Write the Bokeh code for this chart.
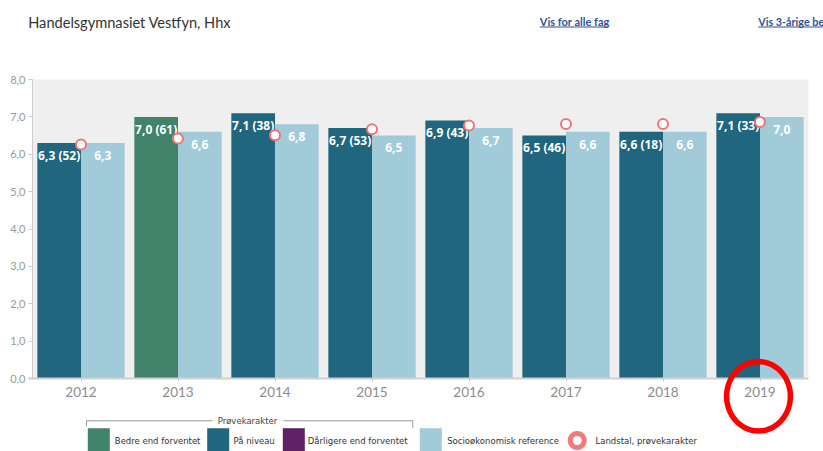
import numpy as np
from bokeh.plotting import figure
from bokeh.models import (ColumnDataSource, Range1d, FixedTicker, LinearAxis,
                          Label, BoxAnnotation, PolyAnnotation, Arrow)
from bokeh.transform import dodge
from bokeh.core.properties import value
from bokeh.embed import file_html
from bokeh.resources import INLINE

# ---------------- data ----------------
years = ["2012", "2013", "2014", "2015", "2016", "2017", "2018", "2019"]
school_grade = [6.3, 7.0, 7.1, 6.7, 6.9, 6.5, 6.6, 7.1]
students = [52, 61, 38, 53, 43, 46, 18, 33]
status = ["På niveau", "Bedre end forventet", "På niveau", "På niveau",
          "På niveau", "På niveau", "På niveau", "På niveau"]
reference = [6.3, 6.6, 6.8, 6.5, 6.7, 6.6, 6.6, 7.0]
national = [6.26, 6.42, 6.51, 6.67, 6.77, 6.81, 6.81, 6.86]
y_ticks = [0, 1, 2, 3, 4, 5, 6, 7, 8]
y_tick_labels = ["0,0", "1,0", "2,0", "3,0", "4,0", "5,0", "6,0", "7,0", "8,0"]
legend_labels = ["Bedre end forventet", "På niveau", "Dårligere end forventet",
                 "Socioøkonomisk reference", "Landstal, prøvekarakter"]
legend_group_title = "Prøvekarakter"
title_text = "Handelsgymnasiet Vestfyn, Hhx"
link_texts = ["Vis for alle fag", "Vis 3-årige be"]

# ---------------- style ----------------
C_GREEN = "#40826a"
C_TEAL = "#1f667e"
C_PURPLE = "#5f2163"
C_LIGHT = "#a1cbd8"
C_NAT = "#f07575"
C_BG = "#efefef"
status_color = {"Bedre end forventet": C_GREEN, "På niveau": C_TEAL,
                "Dårligere end forventet": C_PURPLE}

def fmt(v):
    return f"{v:.1f}".replace(".", ",")

x_pos = list(range(len(years)))          # category slots
LABEL_DROP = 0.33                         # label centre below bar top (data units)

src = ColumnDataSource(dict(
    x=x_pos,
    school=school_grade,
    ref=reference,
    nat=national,
    color=[status_color[s] for s in status],
    school_label=[f"{fmt(v)} ({n})" for v, n in zip(school_grade, students)],
    ref_label=[fmt(v) for v in reference],
    school_label_y=[v - LABEL_DROP for v in school_grade],
    ref_label_y=[v - LABEL_DROP for v in reference],
))

# ---------------- canvas geometry (page pixels) ----------------
W, H = 823, 451
FL, FR, FT, FB = 32, 808, 79, 378          # plotting area edges
n = len(years)
PXU = (FR - FL) / n                        # px per category slot
PYU = (FB - FT) / 8.0                      # px per grade unit

def dx(px):
    return (px - FL) / PXU - 0.5

def dy(py):
    return (FB - py) / PYU

p = figure(x_range=Range1d(dx(0), dx(W)), y_range=Range1d(dy(H), dy(0)),
           width=W, height=H, output_backend="svg", toolbar_location=None,
           x_axis_location=None, y_axis_location=None,
           min_border_left=0, min_border_right=0, min_border_top=0,
           min_border_bottom=0)
p.title.visible = False
p.background_fill_color = "white"
p.border_fill_color = "white"
p.outline_line_color = None
p.grid.visible = False

# grey plotting area
p.add_layout(BoxAnnotation(left=-0.5, right=n - 0.5, bottom=0, top=8,
                           fill_color=C_BG, fill_alpha=1, line_color=None,
                           level="underlay"))

BW = 0.45
p.vbar(x=dodge("x", -BW / 2), top="school", width=BW,
       fill_color="color", line_color=None, source=src)
p.vbar(x=dodge("x", BW / 2), top="ref", width=BW,
       fill_color=C_LIGHT, line_color=None, source=src)

p.text(x=dodge("x", -BW / 2), y="school_label_y",
       text="school_label", text_align="center", text_baseline="middle",
       text_color="white", text_font=value("Open Sans"),
       text_font_style="bold", text_font_size="12px", source=src)
p.text(x=dodge("x", BW / 2), y="ref_label_y",
       text="ref_label", text_align="center", text_baseline="middle",
       text_color="white", text_font=value("Open Sans"),
       text_font_style="bold", text_font_size="12px", source=src)

p.scatter(x="x", y="nat", size=10, marker="circle", fill_color="white",
          line_color=C_NAT, line_width=2, source=src)

# axes (fixed inside the canvas)
yaxis = LinearAxis(fixed_location=-0.5, bounds=(0, 8),
                   ticker=FixedTicker(ticks=y_ticks),
                   major_label_overrides={t: l for t, l in zip(y_ticks, y_tick_labels)})
yaxis.axis_line_color = "#cccccc"
yaxis.major_tick_line_color = "#cccccc"
yaxis.major_tick_out = 4
yaxis.major_tick_in = 0
yaxis.minor_tick_line_color = None
yaxis.major_label_standoff = 3
yaxis.major_label_text_font = "Lato"
yaxis.major_label_text_font_size = "11px"
yaxis.major_label_text_color = "#999999"
p.add_layout(yaxis, "left")

xaxis = LinearAxis(fixed_location=0, bounds=(dx(28), dx(FR)),
                   ticker=FixedTicker(ticks=x_pos),
                   major_label_overrides={i: y for i, y in zip(x_pos, years)})
xaxis.axis_line_color = "#d0d0d0"
xaxis.axis_line_width = 2
xaxis.major_tick_line_color = "#cccccc"
xaxis.major_tick_out = 3
xaxis.major_tick_in = 0
xaxis.minor_tick_line_color = None
xaxis.major_label_standoff = 5
xaxis.major_label_text_font = "Lato"
xaxis.major_label_text_font_size = "13.5px"
xaxis.major_label_text_color = "#8c8c8c"
p.add_layout(xaxis, "below")

# ---------------- decorations ----------------
def lx(px):
    return px / PXU

def ly(py):
    return py / PYU

p.add_layout(Label(x=dx(27.7), y=dy(21.7), text=title_text, text_font="Lato",
                   text_font_size="14.6px", text_color="#333333",
                   text_align="left", text_baseline="middle"))

link_x = [539.3, 757.7]
link_w = [68.4, 65]
link_size = ["11px", "10.8px"]
for t, x0, w, fs in zip(link_texts, link_x, link_w, link_size):
    p.add_layout(Label(x=dx(x0), y=dy(21), text=t, text_font="Lato",
                       text_font_style="bold", text_font_size=fs,
                       text_color="#2f5496", text_align="left",
                       text_baseline="middle"))
    p.add_layout(BoxAnnotation(left=dx(x0), right=dx(x0 + w), top=dy(26),
                               bottom=dy(27), fill_color="#2f5496",
                               fill_alpha=1, line_color=None))

# bracket for "Prøvekarakter"
BR = "#9a9a9a"
for (x0, y0, x1, y1) in [(86, 426, 86, 420.3), (86, 420.3, 212, 420.3),
                         (283, 420.3, 412.3, 420.3), (412.3, 420.3, 412.3, 427.7)]:
    p.add_layout(Arrow(x_start=dx(x0), y_start=dy(y0), x_end=dx(x1), y_end=dy(y1),
                       end=None, line_color=BR, line_width=1))
p.add_layout(Label(x=dx(247), y=dy(420), text=legend_group_title,
                   text_font="DejaVu Sans", text_font_size="8.5px",
                   text_color="#444444", text_align="center",
                   text_baseline="middle"))

LEG_FONT = dict(text_font="DejaVu Sans", text_font_size="8.5px",
                text_color="#333333", text_align="left", text_baseline="middle")
sq_left = [87.3, 206.7, 282.3, 419.3]
sq_colors = [C_GREEN, C_TEAL, C_PURPLE, C_LIGHT]
txt_left = [114.3, 233, 307.3, 446.7, 595]
for l, c in zip(sq_left, sq_colors):
    p.add_layout(BoxAnnotation(left=dx(l), right=dx(l + 22), top=dy(427.7),
                               bottom=dy(455), fill_color=c, fill_alpha=1,
                               line_color=None))
for t, l in zip(legend_labels, txt_left):
    p.add_layout(Label(x=dx(l), y=dy(440), text=t, **LEG_FONT))

theta = np.linspace(0, 2 * np.pi, 73)
# legend ring
p.add_layout(PolyAnnotation(
    xs=list(dx(576.7) + lx(7) * np.cos(theta)),
    ys=list(dy(440) + ly(7) * np.sin(theta)),
    fill_color="white", fill_alpha=1, line_color="#f47a7a", line_alpha=1,
    line_width=5))
# red highlight ellipse around 2019
p.add_layout(PolyAnnotation(
    xs=list(dx(758) + lx(31.9) * np.cos(theta)),
    ys=list(dy(395.8) + ly(34.7) * np.sin(theta)),
    fill_color=None, fill_alpha=0, line_color="#ff0000", line_alpha=1,
    line_width=5.5))

open("out.html", "w").write(file_html(p, INLINE))
